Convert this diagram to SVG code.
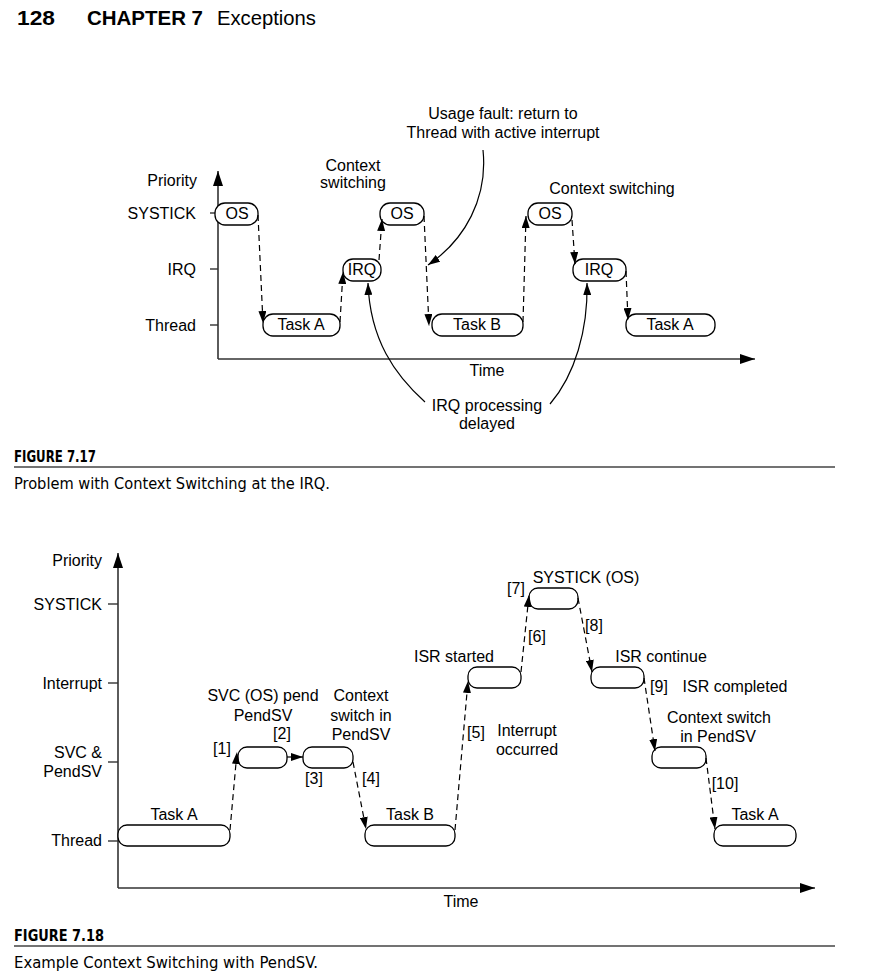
<svg xmlns="http://www.w3.org/2000/svg" width="872" height="980" viewBox="0 0 872 980">
<style>
text{font-family:"Liberation Sans",Arial,sans-serif;font-size:16px;fill:#000}
.m{text-anchor:middle}
.e{text-anchor:end}
.box{fill:#fff;stroke:#000;stroke-width:1.3}
.axis{fill:none;stroke:#333;stroke-width:1.6}
.tick{stroke:#333;stroke-width:1.4}
.dash{fill:none;stroke:#000;stroke-width:1.2;stroke-dasharray:6 4}
.solid{fill:none;stroke:#000;stroke-width:1.2}
.cap{font-family:"Liberation Sans Narrow","DejaVu Sans Condensed","Liberation Sans",sans-serif}
.hd{font-family:"Liberation Sans Narrow","Liberation Sans",sans-serif;font-size:21px}
</style>
<defs>
<marker id="ah" viewBox="0 0 12 8" refX="12" refY="4" markerWidth="12" markerHeight="8" markerUnits="userSpaceOnUse" orient="auto"><path d="M0,0 L12,4 L0,8 z" fill="#000"/></marker>
<marker id="ax" viewBox="0 0 15 10" refX="15" refY="5" markerWidth="15" markerHeight="10" markerUnits="userSpaceOnUse" orient="auto"><path d="M0,0 L15,5 L0,10 z" fill="#000"/></marker>
</defs>

<g id="header">
<text class="hd" x="17" y="25" font-weight="bold" textLength="38" lengthAdjust="spacingAndGlyphs">128</text>
<text class="hd" x="87" y="25" font-weight="bold" textLength="116" lengthAdjust="spacingAndGlyphs">CHAPTER 7</text>
<text class="hd" x="217" y="25" textLength="99" lengthAdjust="spacingAndGlyphs">Exceptions</text>
</g>

<!-- FIGURE 7.17 -->
<g id="fig17-axes">
<line class="axis" x1="218" y1="359" x2="218" y2="171" marker-end="url(#ax)"/>
<line class="axis" x1="218" y1="359" x2="755" y2="359" marker-end="url(#ax)"/>
<line class="tick" x1="210" y1="213" x2="218" y2="213"/>
<line class="tick" x1="210" y1="269" x2="218" y2="269"/>
<line class="tick" x1="210" y1="325" x2="218" y2="325"/>
<text class="e" x="197" y="186">Priority</text>
<text class="e" x="196" y="219">SYSTICK</text>
<text class="e" x="196" y="275">IRQ</text>
<text class="e" x="196" y="331">Thread</text>
<text class="m" x="487" y="376">Time</text>
</g>

<g id="f17-os1"><rect class="box" x="215" y="203" width="43" height="22" rx="10"/><text class="m" x="237" y="219">OS</text></g>
<g id="f17-taskA1"><rect class="box" x="263" y="314" width="77" height="22" rx="10"/><text class="m" x="301" y="330">Task A</text></g>
<g id="f17-irq1"><rect class="box" x="343" y="259" width="38" height="22" rx="10"/><text class="m" x="362" y="275">IRQ</text></g>
<g id="f17-os2"><rect class="box" x="380" y="203" width="44" height="22" rx="10"/><text class="m" x="402" y="219">OS</text></g>
<g id="f17-taskB"><rect class="box" x="432" y="314" width="91" height="22" rx="10"/><text class="m" x="477" y="330">Task B</text></g>
<g id="f17-os3"><rect class="box" x="528" y="203" width="44" height="22" rx="10"/><text class="m" x="550" y="219">OS</text></g>
<g id="f17-irq2"><rect class="box" x="573" y="259" width="53" height="22" rx="10"/><text class="m" x="599" y="275">IRQ</text></g>
<g id="f17-taskA2"><rect class="box" x="626" y="314" width="89" height="22" rx="10"/><text class="m" x="670" y="330">Task A</text></g>

<g id="f17-labels">
<text class="m" x="353" y="171">Context</text>
<text class="m" x="353" y="188">switching</text>
<text class="m" x="503" y="119">Usage fault: return to</text>
<text class="m" x="503" y="138">Thread with active interrupt</text>
<text class="m" x="612" y="194">Context switching</text>
<text class="m" x="487" y="411">IRQ processing</text>
<text class="m" x="487" y="429">delayed</text>
</g>

<g id="f17-connectors">
<line class="dash" x1="258" y1="215" x2="263" y2="323" marker-end="url(#ah)"/>
<line class="dash" x1="340" y1="322" x2="343" y2="272" marker-end="url(#ah)"/>
<line class="dash" x1="379" y1="260" x2="382" y2="219" marker-end="url(#ah)"/>
<line class="dash" x1="424" y1="216" x2="429" y2="326" marker-end="url(#ah)"/>
<line class="dash" x1="523" y1="322" x2="526" y2="216" marker-end="url(#ah)"/>
<line class="dash" x1="572" y1="220" x2="575" y2="264" marker-end="url(#ah)"/>
<line class="dash" x1="626" y1="271" x2="628" y2="320" marker-end="url(#ah)"/>
<path class="solid" d="M483,150 C488,198 465,240 428,265" marker-end="url(#ah)"/>
<path class="solid" d="M425,402 C395,375 370,340 368,283" marker-end="url(#ah)"/>
<path class="solid" d="M550,404 C575,375 588,330 587,283" marker-end="url(#ah)"/>
</g>

<g id="fig17-caption">
<text class="cap" x="14" y="462" font-weight="bold" textLength="82" lengthAdjust="spacingAndGlyphs">FIGURE 7.17</text>
<line x1="14" y1="467" x2="835" y2="467" stroke="#444" stroke-width="1.5"/>
<text class="cap" x="14" y="489" textLength="316" lengthAdjust="spacingAndGlyphs">Problem with Context Switching at the IRQ.</text>
</g>

<!-- FIGURE 7.18 -->
<g id="fig18-axes">
<line class="axis" x1="118" y1="888" x2="118" y2="553" marker-end="url(#ax)"/>
<line class="axis" x1="118" y1="888" x2="815" y2="888" marker-end="url(#ax)"/>
<line class="tick" x1="108" y1="604" x2="118" y2="604"/>
<line class="tick" x1="108" y1="683" x2="118" y2="683"/>
<line class="tick" x1="108" y1="762" x2="118" y2="762"/>
<line class="tick" x1="108" y1="841" x2="118" y2="841"/>
<text class="e" x="102" y="566">Priority</text>
<text class="e" x="102" y="610">SYSTICK</text>
<text class="e" x="102" y="689">Interrupt</text>
<text class="e" x="102" y="758">SVC &amp;</text>
<text class="e" x="102" y="777">PendSV</text>
<text class="e" x="102" y="846">Thread</text>
<text class="m" x="461" y="907">Time</text>
</g>

<g id="f18-taskA1"><rect class="box" x="118" y="825" width="112" height="21" rx="9"/><text class="m" x="174" y="820">Task A</text></g>
<g id="f18-svc"><rect class="box" x="238" y="747" width="49" height="21" rx="9"/></g>
<g id="f18-pendsv"><rect class="box" x="303" y="747" width="50" height="21" rx="9"/></g>
<g id="f18-taskB"><rect class="box" x="365" y="825" width="90" height="21" rx="9"/><text class="m" x="410" y="820">Task B</text></g>
<g id="f18-isr1"><rect class="box" x="468" y="667" width="53" height="21" rx="9"/></g>
<g id="f18-systick"><rect class="box" x="529" y="588" width="49" height="21" rx="9"/></g>
<g id="f18-isr2"><rect class="box" x="591" y="667" width="53" height="21" rx="9"/></g>
<g id="f18-pendsv2"><rect class="box" x="652" y="747" width="54" height="21" rx="9"/></g>
<g id="f18-taskA2"><rect class="box" x="714" y="825" width="82" height="21" rx="9"/><text class="m" x="755" y="820">Task A</text></g>

<g id="f18-labels">
<text class="m" x="263" y="701">SVC (OS) pend</text>
<text class="m" x="263" y="721">PendSV</text>
<text class="m" x="361" y="701">Context</text>
<text class="m" x="361" y="721">switch in</text>
<text class="m" x="361" y="740">PendSV</text>
<text class="m" x="222" y="754">[1]</text>
<text class="m" x="282" y="739">[2]</text>
<text class="m" x="314" y="784">[3]</text>
<text class="m" x="371" y="784">[4]</text>
<text class="m" x="476" y="738">[5]</text>
<text class="m" x="527" y="736">Interrupt</text>
<text class="m" x="527" y="755">occurred</text>
<text class="m" x="454" y="662">ISR started</text>
<text class="m" x="537" y="642">[6]</text>
<text class="m" x="516" y="594">[7]</text>
<text class="m" x="586" y="583">SYSTICK (OS)</text>
<text class="m" x="594" y="631">[8]</text>
<text class="m" x="661" y="662">ISR continue</text>
<text class="m" x="659" y="692">[9]</text>
<text class="m" x="735" y="692">ISR completed</text>
<text class="m" x="719" y="723">Context switch</text>
<text class="m" x="718" y="742">in PendSV</text>
<text class="m" x="725" y="789">[10]</text>
</g>

<g id="f18-connectors">
<line class="dash" x1="230" y1="830" x2="237" y2="752" marker-end="url(#ah)"/>
<line class="solid" x1="287" y1="757" x2="303" y2="757" marker-end="url(#ah)"/>
<line class="dash" x1="353" y1="762" x2="366" y2="829" marker-end="url(#ah)"/>
<line class="dash" x1="455" y1="830" x2="468" y2="681" marker-end="url(#ah)"/>
<line class="dash" x1="521" y1="672" x2="529" y2="595" marker-end="url(#ah)"/>
<line class="dash" x1="578" y1="598" x2="592" y2="672" marker-end="url(#ah)"/>
<line class="dash" x1="644" y1="678" x2="655" y2="751" marker-end="url(#ah)"/>
<line class="dash" x1="706" y1="758" x2="715" y2="829" marker-end="url(#ah)"/>
</g>

<g id="fig18-caption">
<text class="cap" x="14" y="941" font-weight="bold" textLength="90" lengthAdjust="spacingAndGlyphs">FIGURE 7.18</text>
<line x1="14" y1="946" x2="835" y2="946" stroke="#444" stroke-width="1.5"/>
<text class="cap" x="14" y="968" textLength="304" lengthAdjust="spacingAndGlyphs">Example Context Switching with PendSV.</text>
</g>
</svg>
